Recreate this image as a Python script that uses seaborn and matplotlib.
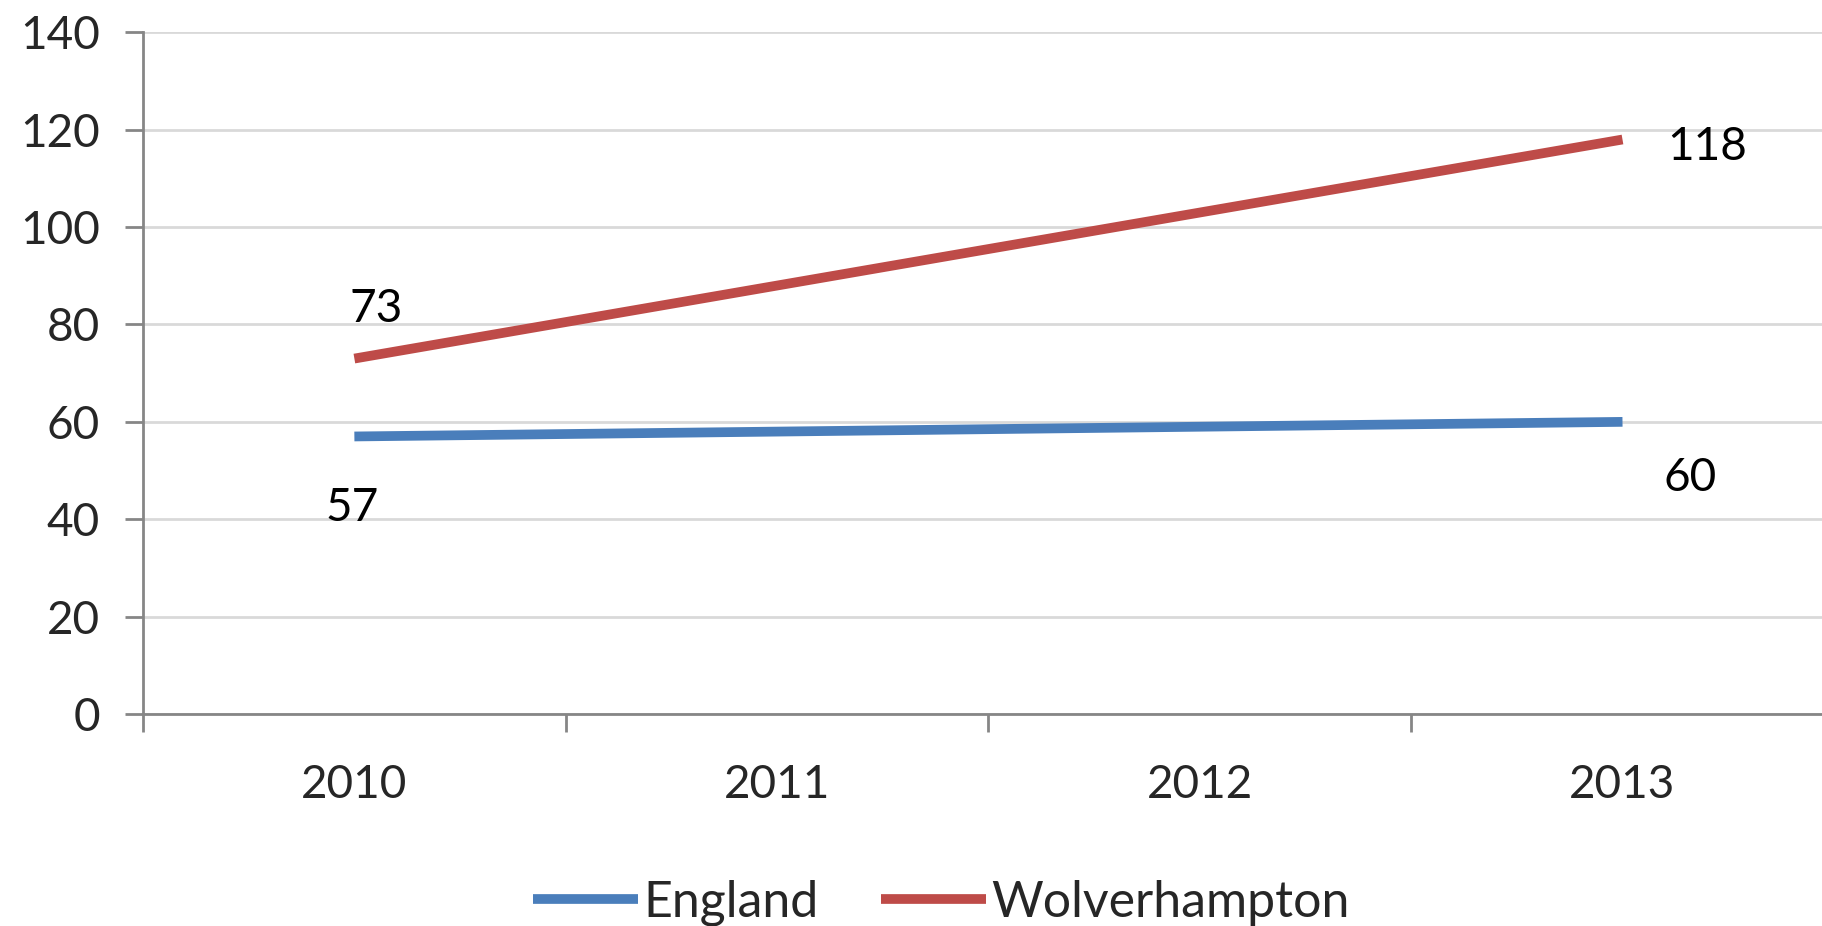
import pandas as pd
import matplotlib
matplotlib.use("Agg")
import matplotlib.pyplot as plt
import seaborn as sns
from matplotlib.ticker import FixedLocator

# chart data
years = ["2010", "2011", "2012", "2013"]
england = [57, 58, 59, 60]
wolverhampton = [73, 88, 103, 118]
series_names = ["England", "Wolverhampton"]
colors = ["#4A7EBB", "#BE4B48"]

df = pd.DataFrame({
    "year": years * 2,
    "value": england + wolverhampton,
    "area": [series_names[0]] * len(years) + [series_names[1]] * len(years),
})

sns.set_theme(style="white")
plt.rcParams["font.family"] = ["Lato", "DejaVu Sans"]

fig = plt.figure(figsize=(18.22, 9.26), dpi=100)
ax = fig.add_axes([0.0785, 0.229, 0.928, 0.736])

sns.lineplot(data=df, x="year", y="value", hue="area", palette=colors,
             linewidth=7, ax=ax, sort=False, solid_capstyle="butt")

ax.set_xlim(-0.5, 3.5)
ax.set_ylim(0, 140)
ax.set_yticks(range(0, 141, 20))
ax.yaxis.grid(True, color="#D9D9D9", linewidth=2)
ax.xaxis.grid(False)
ax.set_axisbelow(True)

for side in ["top", "right"]:
    ax.spines[side].set_visible(False)
for side in ["left", "bottom"]:
    ax.spines[side].set_color("#868686")
    ax.spines[side].set_linewidth(2)

ax.tick_params(axis="y", which="major", length=13, width=2, color="#868686",
               labelsize=33, pad=18, direction="out", left=True)
ax.tick_params(axis="x", which="major", length=0, labelsize=33, pad=36)
ax.xaxis.set_minor_locator(FixedLocator([-0.5, 0.5, 1.5, 2.5]))
ax.tick_params(axis="x", which="minor", length=13, width=2, color="#868686",
               direction="out", bottom=True)
ax.set_xlabel("")
ax.set_ylabel("")

# data labels at the ends of each line
label_kw = dict(textcoords="offset pixels", fontsize=33, color="black",
                ha="center", va="center")
ax.annotate(str(wolverhampton[0]), (0, wolverhampton[0]), xytext=(22, 50), **label_kw)
ax.annotate(str(england[0]), (0, england[0]), xytext=(-2, -72), **label_kw)
ax.annotate(str(wolverhampton[-1]), (3, wolverhampton[-1]), xytext=(85, -7), **label_kw)
ax.annotate(str(england[-1]), (3, england[-1]), xytext=(68, -56), **label_kw)

handles, labels = ax.get_legend_handles_labels()
ax.legend(handles, labels, loc="center", bbox_to_anchor=(0.472, -0.2775),
          ncol=2, frameon=False, fontsize=36, handlelength=2.1,
          handletextpad=0.1, columnspacing=1.25)

fig.savefig("out.png", dpi=100)
